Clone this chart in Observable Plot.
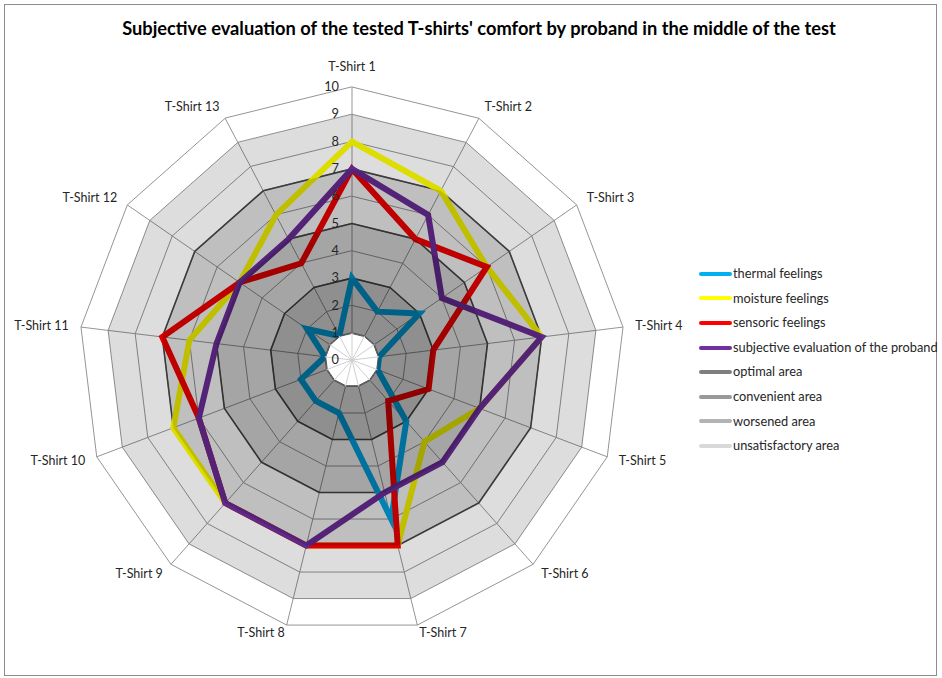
<!DOCTYPE html>
<html>
<head>
<meta charset="utf-8">
<script src="https://cdn.jsdelivr.net/npm/d3@7"></script>
<script src="https://cdn.jsdelivr.net/npm/@observablehq/plot@0.6"></script>
<style>
  body { margin: 0; background: #fff; }
  #wrap { position: relative; width: 942px; height: 678px; overflow: hidden; font-family: Lato, "Open Sans", sans-serif; color: #262626; }
  #frame { position: absolute; left: 4px; top: 4px; width: 933px; height: 672px; border: 1px solid #8c8c8c; box-sizing: border-box; }
  #chart { position: absolute; left: 0; top: 0; }
  #title { position: absolute; left: 479px; top: 17px; transform: translateX(-50%); white-space: nowrap; font-weight: 700; font-size: 17px; color: #000; }
  .lg { position: absolute; left: 699px; height: 16px; line-height: 16px; font-size: 12.8px; white-space: nowrap; color: #262626; }
  .lg span.sw { display: inline-block; width: 33px; height: 4px; border-radius: 2px; vertical-align: middle; margin-right: 1px; position: relative; top: -1px; }
</style>
</head>
<body>
<div id="wrap">
  <div id="frame"></div>
  <div id="chart"></div>
  <div id="title"><span id="titleText">Subjective evaluation of the tested T-shirts' comfort by proband in the middle of the test</span></div>
</div>
<script>
// ---- data ----
const shirts = ["T-Shirt 1","T-Shirt 2","T-Shirt 3","T-Shirt 4","T-Shirt 5","T-Shirt 6","T-Shirt 7",
                "T-Shirt 8","T-Shirt 9","T-Shirt 10","T-Shirt 11","T-Shirt 12","T-Shirt 13"];
const thermal  = [3, 2, 3, 1, 1, 3, 6, 2, 2, 2, 1, 2, 1];
const moisture = [8, 7, 6, 7, 5, 4, 7, 7, 7, 7, 6, 5, 6];
const sensoric = [7, 5, 6, 3, 3, 2, 7, 7, 7, 6, 7, 5, 4];
const proband  = [7, 6, 4, 7, 5, 5, 5, 7, 7, 6, 5, 5, 5];
const seriesNames  = ["thermal feelings", "moisture feelings", "sensoric feelings", "subjective evaluation of the proband"];
const seriesColors = ["#00b0f0", "#ffff00", "#ff0000", "#7030a0"];
const areaNames  = ["optimal area", "convenient area", "worsened area", "unsatisfactory area"];
const areaLevels = [3, 5, 7, 9];
const areaColors = ["#7f7f7f", "#999999", "#b3b3b3", "#d9d9d9"];
const tickValues = [0, 1, 2, 3, 4, 5, 6, 7, 8, 9, 10];
const maxValue = 10;

// ---- geometry helpers ----
const N = shirts.length;
function polar(v, i) {
  const a = 2 * Math.PI * i / N;
  return { x: v * Math.sin(a), y: v * Math.cos(a) };
}
function ring(v) { return shirts.map((s, i) => ({ v, shirt: s, ...polar(v, i) })); }
function seriesRows(vals, name) { return shirts.map((s, i) => ({ name, shirt: s, value: vals[i], ...polar(vals[i], i) })); }

const gridRings = tickValues.filter(v => v > 0).flatMap(v => ring(v));
const spokes = shirts.map((s, i) => { const p = polar(maxValue, i); return { x1: 0, y1: 0, x2: p.x, y2: p.y }; });
const innerSpokes = shirts.map((s, i) => { const p = polar(1, i); return { x1: 0, y1: 0, x2: p.x, y2: p.y }; });
const areaRings = areaLevels.flatMap(v => ring(v));
const darkRings = areaLevels.filter(v => v < 9).flatMap(v => ring(v));
const allSeries = [thermal, moisture, sensoric, proband];

const labelRows = shirts.map((s, i) => {
  const a = 2 * Math.PI * i / N;
  const cs = Math.cos(a);
  const p = polar(i === 0 ? 10.75 : (cs < -0.9 ? 10.3 : 10.45), i);
  const sn = Math.sin(a);
  return { shirt: s, ...p, anchor: sn > 0.1 ? "start" : (sn < -0.1 ? "end" : "middle") };
});

const cx = 351.5, cy = 359.5, unit = 27.3;
const font = "Lato, 'Open Sans', sans-serif";

const marks = [
  // grid
  Plot.line(gridRings, { x: "x", y: "y", z: "v", curve: "linear-closed", stroke: "#959595", strokeWidth: 1 }),
  Plot.link(spokes, { x1: "x1", y1: "y1", x2: "x2", y2: "y2", stroke: "#959595", strokeWidth: 1 }),
  Plot.line(darkRings, { x: "x", y: "y", z: "v", curve: "linear-closed", stroke: "#4a4a4a", strokeWidth: 1.6 }),
  // data series
  ...allSeries.map((vals, k) => Plot.line(seriesRows(vals, seriesNames[k]), {
    x: "x", y: "y", curve: "linear-closed", stroke: seriesColors[k], strokeWidth: 6,
    strokeLinejoin: "miter", strokeMiterlimit: 10
  })),
  // area overlays (stacked translucent fills)
  Plot.line(areaRings, { x: "x", y: "y", z: "v", curve: "linear-closed", fill: "#000", fillOpacity: 0.135, stroke: "none" }),
  // white centre
  Plot.line(ring(0.97), { x: "x", y: "y", curve: "linear-closed", fill: "#fff", stroke: "#555", strokeWidth: 1 }),
  Plot.link(innerSpokes, { x1: "x1", y1: "y1", x2: "x2", y2: "y2", stroke: "#cfcfcf", strokeWidth: 1 }),
  // tick labels
  Plot.text(tickValues, { x: () => 0, y: d => d, text: d => String(d), textAnchor: "end", dx: -13, fontSize: 12.8, fill: "#262626", fontFamily: font }),
  // category labels
  ...["start", "end", "middle"].map(anc => Plot.text(labelRows.filter(d => d.anchor === anc), {
    x: "x", y: "y", text: "shirt", textAnchor: anc, fontSize: 12.5, fill: "#262626", fontFamily: font
  }))
];

const chart = Plot.plot({
  width: 942, height: 678,
  margin: 0,
  x: { domain: [-maxValue, maxValue], range: [cx - unit * maxValue, cx + unit * maxValue], axis: null },
  y: { domain: [-maxValue, maxValue], range: [cy + unit * maxValue, cy - unit * maxValue], axis: null },
  style: { background: "transparent", fontFamily: font, overflow: "visible" },
  marks
});
document.getElementById("chart").appendChild(chart);

// legend
const wrap = document.getElementById("wrap");
const legendItems = [
  ...seriesNames.map((n, k) => ({ n, c: seriesColors[k] })),
  ...areaNames.map((n, k) => ({ n, c: areaColors[k] }))
];
legendItems.forEach((it, i) => {
  const d = document.createElement("div");
  d.className = "lg";
  d.style.top = (265 + i * 24.6) + "px";
  d.innerHTML = `<span class="sw" style="background:${it.c}"></span>${it.n}`;
  wrap.appendChild(d);
});

// fit title width to the reference
const tt = document.getElementById("titleText");
const w = tt.getBoundingClientRect().width;
if (w > 0) document.getElementById("title").style.fontSize = (17 * 714 / w) + "px";
</script>
</body>
</html>
